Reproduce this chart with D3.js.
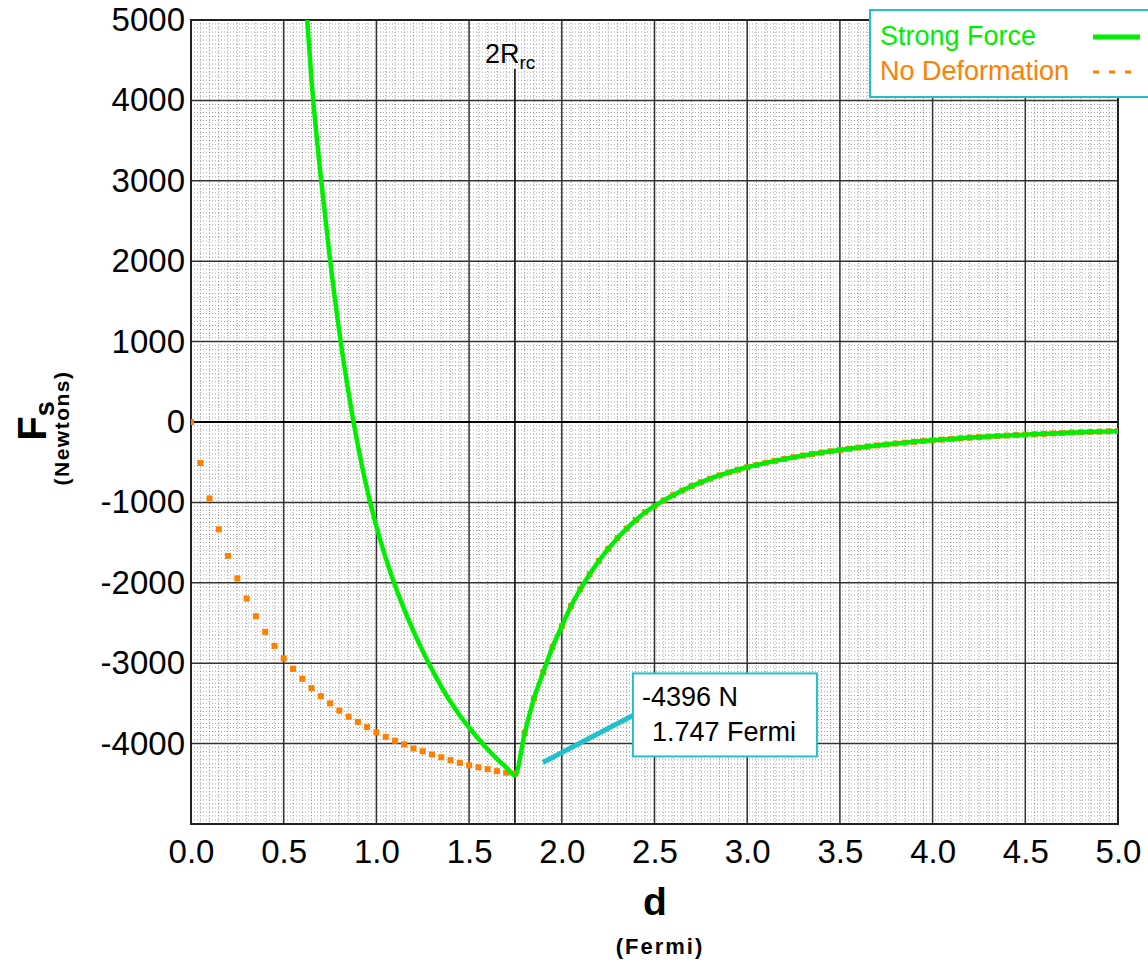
<!DOCTYPE html>
<html>
<head>
<meta charset="utf-8">
<script src="https://cdn.jsdelivr.net/npm/d3@7"></script>
<style>
  body { margin: 0; background: #fff; }
  svg { display: block; font-family: Arial, "Liberation Sans", sans-serif; }
</style>
</head>
<body>
<svg width="1148" height="961"></svg>
<script>
// Data =====================================================

// tick labels
var xTicks = [0, 0.5, 1.0, 1.5, 2.0, 2.5, 3.0, 3.5, 4.0, 4.5, 5.0];
var yTicks = [5000, 4000, 3000, 2000, 1000, 0, -1000, -2000, -3000, -4000];

// minimum of the strong force (2 R_rc)
var minDist = 1.747;
var minForce = -4396;

// strong force, d = 0.60 .. 1.70 step 0.05 (left of the minimum)
var strongLeftForce = [5880, 4250, 3050, 2020, 1120, 360, -290, -840, -1300, -1690,
  -2030, -2330, -2600, -2850, -3080, -3290, -3480, -3650, -3800, -3940,
  -4070, -4190, -4295];

// no deformation, d = 0 .. 1.70 step 0.05
var noDeformLeftForce = [0, -510, -950, -1335, -1665, -1945, -2195, -2415, -2610, -2785,
  -2940, -3070, -3195, -3310, -3410, -3500, -3590, -3665, -3730, -3795,
  -3860, -3915, -3965, -4010, -4060, -4095, -4135, -4170, -4205, -4240,
  -4270, -4295, -4318, -4343, -4362];
var noDeformAt175 = -4370;

// both curves right of the minimum, d = 1.80 .. 5.00 step 0.05
var tailForce = [-3870, -3438, -3110, -2800,
  -2540, -2290, -2080, -1893, -1727, -1578, -1445, -1326, -1219, -1122,
  -1045, -975, -910, -852, -798, -750, -705, -664, -627, -594,
  -563, -535, -508, -483, -460, -438, -418, -399, -381, -364,
  -348, -333, -319, -305, -292, -280, -268, -257, -247, -237,
  -228, -219, -211, -203, -195, -188, -181, -175, -169, -163,
  -157, -152, -147, -142, -137, -132, -128, -124, -120, -116,
  -112];

// sample positions (Fermi)
var step = 0.05;
function grid(from, n) {
  return d3.range(n).map(function(i) { return +(from + i * step).toFixed(3); });
}

var strongDist = grid(0.60, strongLeftForce.length)
  .concat([minDist], grid(1.80, tailForce.length));
var strongForce = strongLeftForce.concat([minForce], tailForce);

var noDeformDist = grid(0, noDeformLeftForce.length)
  .concat([1.75], grid(1.80, tailForce.length));
var noDeformForce = noDeformLeftForce.concat([noDeformAt175], tailForce);

var strongData = strongDist.map(function(d, i) { return {d: d, f: strongForce[i]}; });
var noDeformData = noDeformDist.map(function(d, i) { return {d: d, f: noDeformForce[i]}; });

// globals ==================================================

var GREEN = "#00ee00";
var ORANGE = "#ff8000";
var CYAN = "#22c0ca";

var svg = d3.select("svg");
var plotL = 191, plotR = 1118, plotT = 20, plotB = 824;

var x = d3.scaleLinear().domain([0, 5]).range([plotL, plotR]);
var y = d3.scaleLinear().domain([-5000, 5000]).range([plotB, plotT]);

svg.append("rect").attr("width", 1148).attr("height", 961).attr("fill", "#fff");

svg.append("defs").append("clipPath").attr("id", "plot")
  .append("rect")
    .attr("x", plotL).attr("y", plotT)
    .attr("width", plotR - plotL).attr("height", plotB - plotT);

// Grid =====================================================

var minorX = d3.range(1, 100).filter(function(i) { return i % 10 != 0; })
  .map(function(i) { return i * 0.05; });
var minorY = d3.range(-99, 100).filter(function(i) { return i % 20 != 0; })
  .map(function(i) { return i * 50; });

var gridG = svg.append("g").attr("class", "grid");

gridG.selectAll(".minor-x").data(minorX).enter().append("line")
  .attr("x1", function(d) { return x(d); }).attr("x2", function(d) { return x(d); })
  .attr("y1", plotT).attr("y2", plotB)
  .attr("stroke", "#555").attr("stroke-width", 1)
  .attr("stroke-dasharray", "1,2").attr("opacity", 0.5);

gridG.selectAll(".minor-y").data(minorY).enter().append("line")
  .attr("y1", function(d) { return y(d); }).attr("y2", function(d) { return y(d); })
  .attr("x1", plotL).attr("x2", plotR)
  .attr("stroke", "#555").attr("stroke-width", 1)
  .attr("stroke-dasharray", "1,2").attr("opacity", 0.5);

gridG.selectAll(".major-x").data(xTicks.slice(1, -1)).enter().append("line")
  .attr("x1", function(d) { return x(d); }).attr("x2", function(d) { return x(d); })
  .attr("y1", plotT).attr("y2", plotB)
  .attr("stroke", "#333").attr("stroke-width", 1.5);

gridG.selectAll(".major-y").data(yTicks.slice(1)).enter().append("line")
  .attr("y1", function(d) { return y(d); }).attr("y2", function(d) { return y(d); })
  .attr("x1", plotL).attr("x2", plotR)
  .attr("stroke", function(d) { return d == 0 ? "#000" : "#333"; })
  .attr("stroke-width", function(d) { return d == 0 ? 2 : 1.5; });

// frame
svg.append("rect")
  .attr("x", plotL).attr("y", plotT)
  .attr("width", plotR - plotL).attr("height", plotB - plotT)
  .attr("fill", "none").attr("stroke", "#222").attr("stroke-width", 2);

// Axes =====================================================

var xAxis = svg.append("g")
  .attr("transform", "translate(0," + plotB + ")")
  .call(d3.axisBottom(x).tickValues(xTicks).tickFormat(d3.format(".1f"))
    .tickSize(0).tickPadding(16));

var yAxis = svg.append("g")
  .attr("transform", "translate(" + plotL + ",0)")
  .call(d3.axisLeft(y).tickValues(yTicks).tickFormat(function(d) { return d; })
    .tickSize(0).tickPadding(6));

[xAxis, yAxis].forEach(function(a) {
  a.select(".domain").remove();
  a.selectAll("text")
    .attr("font-family", "Arial, 'Liberation Sans', sans-serif")
    .attr("font-size", 33).attr("fill", "#000");
});

// axis titles
svg.append("text")
  .attr("x", 655).attr("y", 915)
  .attr("text-anchor", "middle")
  .attr("font-size", 39).attr("font-weight", "bold")
  .text("d");

svg.append("text")
  .attr("x", 660).attr("y", 954)
  .attr("text-anchor", "middle")
  .attr("font-size", 22).attr("font-weight", "bold")
  .attr("letter-spacing", 2)
  .text("(Fermi)");

var fs = svg.append("text")
  .attr("transform", "translate(46,421) rotate(-90)")
  .attr("text-anchor", "middle")
  .attr("font-weight", "bold");
fs.append("tspan").attr("font-size", 40).text("F");
fs.append("tspan").attr("font-size", 27).attr("dy", 8).text("s");

svg.append("text")
  .attr("transform", "translate(69,428) rotate(-90)")
  .attr("text-anchor", "middle")
  .attr("font-size", 21).attr("font-weight", "bold")
  .attr("letter-spacing", 1.5)
  .text("(Newtons)");

// 2R_rc marker =============================================

svg.append("line")
  .attr("x1", x(minDist)).attr("x2", x(minDist))
  .attr("y1", 69).attr("y2", plotB)
  .attr("stroke", "#000").attr("stroke-width", 1.5);

var rrc = svg.append("text")
  .attr("x", x(minDist) - 30).attr("y", 63)
  .attr("font-size", 27);
rrc.append("tspan").text("2R");
rrc.append("tspan").attr("font-size", 19).attr("dy", 6).text("rc");

// Curves ===================================================

var curves = svg.append("g").attr("clip-path", "url(#plot)");

curves.selectAll(".nodef").data(noDeformData).enter().append("rect")
  .attr("x", function(d) { return x(d.d) - 3; })
  .attr("y", function(d) { return y(d.f) - 3; })
  .attr("width", 6).attr("height", 6)
  .attr("fill", ORANGE);

var line = d3.line()
  .x(function(d) { return x(d.d); })
  .y(function(d) { return y(d.f); })
  .curve(d3.curveMonotoneX);

curves.append("path")
  .datum(strongData)
  .attr("d", line)
  .attr("fill", "none")
  .attr("stroke", GREEN)
  .attr("stroke-width", 4.5)
  .attr("stroke-linejoin", "round");

// Annotation ===============================================

var mx = x(minDist), my = y(minForce);
svg.append("line")
  .attr("x1", mx + 28).attr("y1", my - 13)
  .attr("x2", mx + 118).attr("y2", my - 60)
  .attr("stroke", CYAN).attr("stroke-width", 5);

svg.append("rect")
  .attr("x", mx + 118).attr("y", my - 102)
  .attr("width", 184).attr("height", 83)
  .attr("fill", "#fff").attr("stroke", CYAN).attr("stroke-width", 2);

svg.append("text")
  .attr("x", mx + 127).attr("y", my - 69)
  .attr("font-size", 27)
  .text(minForce + " N");

svg.append("text")
  .attr("x", mx + 137).attr("y", my - 34)
  .attr("font-size", 27)
  .text(minDist + " Fermi");

// Legend ===================================================

var legend = svg.append("g").attr("class", "legend");
legend.append("rect")
  .attr("x", 870).attr("y", 10).attr("width", 300).attr("height", 87)
  .attr("fill", "#fff").attr("stroke", CYAN).attr("stroke-width", 2);

legend.append("text")
  .attr("x", 880).attr("y", 45).attr("font-size", 27)
  .attr("fill", GREEN).text("Strong Force");
legend.append("line")
  .attr("x1", 1093).attr("x2", 1140).attr("y1", 37).attr("y2", 37)
  .attr("stroke", GREEN).attr("stroke-width", 5);

legend.append("text")
  .attr("x", 880).attr("y", 80).attr("font-size", 27)
  .attr("fill", ORANGE).text("No Deformation");
legend.append("line")
  .attr("x1", 1093).attr("x2", 1140).attr("y1", 72).attr("y2", 72)
  .attr("stroke", ORANGE).attr("stroke-width", 3)
  .attr("stroke-dasharray", "6,10");
</script>
</body>
</html>
